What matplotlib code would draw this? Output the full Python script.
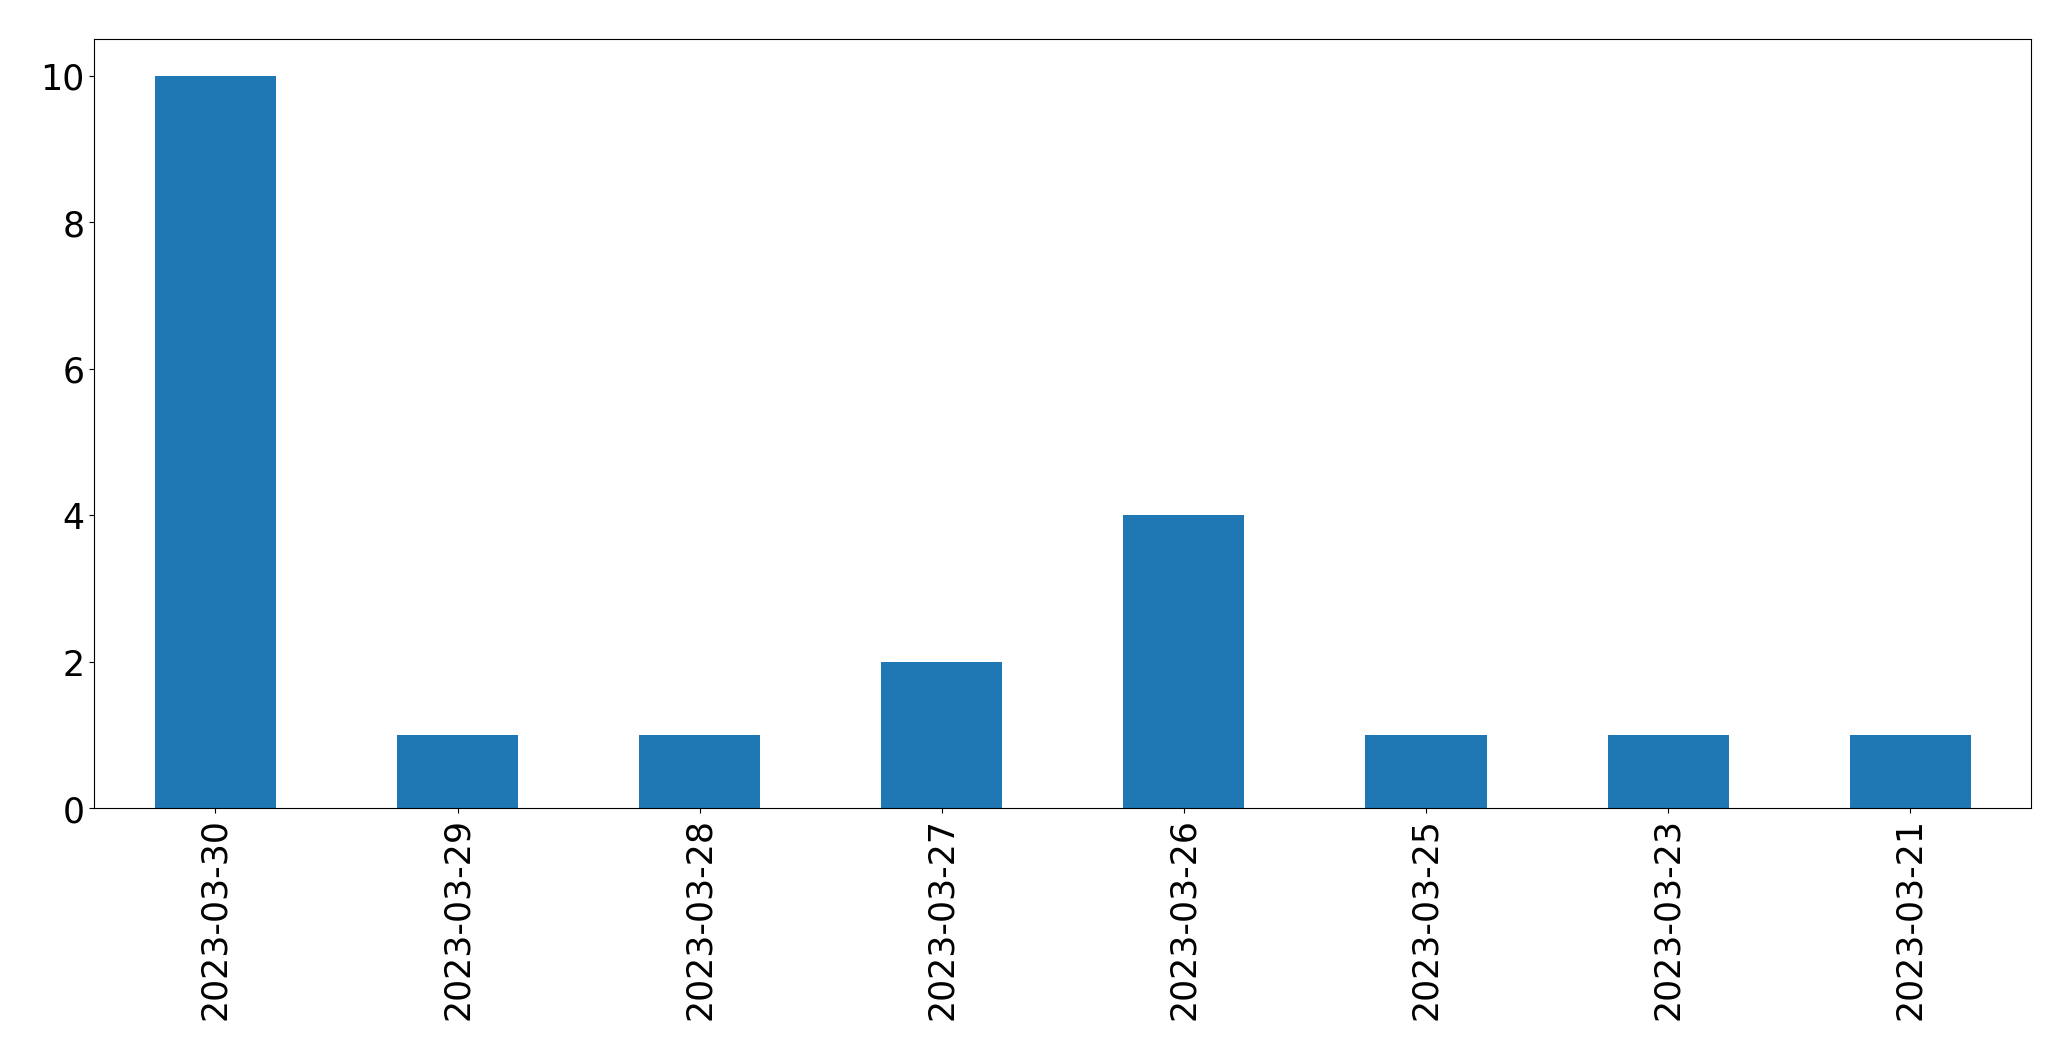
import matplotlib
matplotlib.use("Agg")
import matplotlib.pyplot as plt
import numpy as np

dates = ["2023-03-30", "2023-03-29", "2023-03-28", "2023-03-27",
         "2023-03-26", "2023-03-25", "2023-03-23", "2023-03-21"]
counts = [10, 1, 1, 2, 4, 1, 1, 1]

fig = plt.figure(figsize=(20.71, 10.605), dpi=100)
ax = fig.add_axes([0.0456, 0.2375, 0.9352, 0.7253])

x = np.arange(len(dates))
ax.bar(x, counts, width=0.5, color="#1f77b4")
ax.set_xlim(-0.5, len(dates) - 0.5)
ax.set_ylim(0, 10.5)
ax.set_xticks(x)
ax.set_xticklabels(dates, rotation=90)
ax.set_yticks([0, 2, 4, 6, 8, 10])
ax.tick_params(labelsize=25)

fig.savefig("out.png", dpi=100)
